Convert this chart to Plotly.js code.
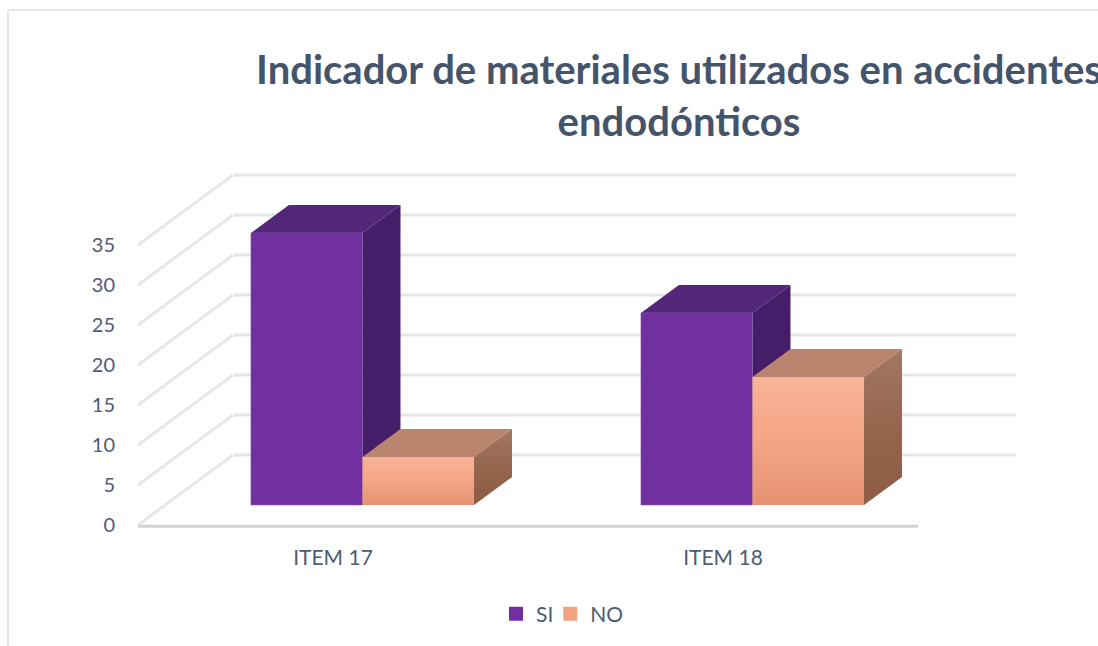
<!DOCTYPE html>
<html>
<head>
<meta charset="utf-8">
<script src="https://cdn.plot.ly/plotly-3.0.1.min.js"></script>
<style>html,body{margin:0;padding:0;background:#fff;overflow:hidden}#chart{width:1098px;height:646px}</style>
</head>
<body>
<div id="chart"></div>
<script>
const categories = ["ITEM 17", "ITEM 18"];
const seriesNames = ["SI", "NO"];
const si = [34, 24];
const no = [6, 16];
const tickValues = [0, 5, 10, 15, 20, 25, 30, 35];

const TEXT = "#4d5c72";
const depthX = 95 / 390;          // category units per full floor depth
const depthY = 70 / 8;            // value units per full floor depth
const frontT = 20 / 70, backT = 48 / 70;
const barStart = -0.28, barWidth = 0.286;
const floorEnd = (918 - 333) / 390;
const wallEnd = (1016 - 333) / 390;

const X = (x, t) => x + t * depthX;
const Y = (v, t) => v + t * depthY;
function poly(pts) {
  return { x: pts.map(p => X(p[0], p[1])), y: pts.map(p => Y(p[2], p[1])) };
}
function face(pts, style) {
  const p = poly(pts);
  const tr = { type: "scatter", mode: "lines", x: [...p.x, p.x[0]], y: [...p.y, p.y[0]],
    fill: "toself", line: { width: 0.6, color: style.edge || "rgba(255,255,255,0)" },
    hoverinfo: "skip", showlegend: false };
  if (style.grad) tr.fillgradient = { type: "vertical", colorscale: [[0, style.grad[0]], [0.5, style.grad[1]], [1, style.grad[2]]] };
  else tr.fillcolor = style.color;
  return tr;
}
function bar3d(cat, slot, val, st) {
  const l = cat + barStart + slot * barWidth, r = l + barWidth;
  return [
    face([[l, frontT, val], [r, frontT, val], [r, backT, val], [l, backT, val]], st.top),
    face([[r, frontT, 0], [r, backT, 0], [r, backT, val], [r, frontT, val]], st.side),
    face([[l, frontT, 0], [r, frontT, 0], [r, frontT, val], [l, frontT, val]], st.front)
  ];
}

const traces = [];
// back wall and side wall lines
tickValues.forEach(v => {
  traces.push({ type: "scatter", mode: "lines", x: [X(-0.5, 1), wallEnd], y: [Y(v, 1), Y(v, 1)],
    line: { color: "#e4e5ea", width: 3 }, hoverinfo: "skip", showlegend: false });
  traces.push({ type: "scatter", mode: "lines", x: [X(-0.5, 0), X(-0.5, 1)], y: [Y(v, 0), Y(v, 1)],
    line: { color: "#d0d0d5", width: 3, dash: "1px,1px" }, hoverinfo: "skip", showlegend: false });
});
// front edge of the floor
traces.push({ type: "scatter", mode: "lines", x: [-0.5, floorEnd], y: [-0.15, -0.15],
  line: { color: "#d2d2d6", width: 3 }, hoverinfo: "skip", showlegend: false });

const siStyle = { front: { color: "#7030a0", edge: "#8a5ab0" }, side: { color: "#461d69" }, top: { color: "#54267a" } };
const noStyle = {
  front: { grad: ["#e59272", "#f5a584", "#f8b398"] },
  side: { grad: ["#8e5b44", "#96654e", "#a27762"] },
  top: { color: "#b9856f" }
};
categories.forEach((c, i) => {
  traces.push(...bar3d(i, 0, si[i], siStyle));
  traces.push(...bar3d(i, 1, no[i], noStyle));
});
// legend entries
traces.push({ type: "scatter", mode: "markers", name: seriesNames[0], x: [null], y: [null],
  marker: { symbol: "square", size: 14, color: "#7030a0" } });
traces.push({ type: "scatter", mode: "markers", name: seriesNames[1], x: [null], y: [null],
  marker: { symbol: "square", size: 14, color: "#f2a283" } });

const pxX = p => (p - 138) / 878, pxY = p => (529 - p) / 356;
const layout = {
  width: 1098, height: 646,
  margin: { l: 138, r: 82, t: 173, b: 117, pad: 0 },
  paper_bgcolor: "#fff", plot_bgcolor: "rgba(0,0,0,0)",
  hovermode: false,
  font: { family: "Lato, 'Open Sans', sans-serif", color: TEXT, size: 20 },
  title: { text: "Indicador de materiales utilizados en accidentes<br>endodónticos",
    x: 679 / 1098, xref: "container", xanchor: "center", y: 1 - 84 / 646, yref: "container", yanchor: "middle",
    font: { family: "Lato, 'Open Sans', sans-serif", size: 40, weight: 700, color: "#44546a" } },
  xaxis: { range: [-0.5, wallEnd], tickmode: "array", tickvals: categories.map((c, i) => i), ticktext: categories,
    showgrid: false, zeroline: false, showline: false, ticks: "", ticklabelstandoff: 14,
    tickfont: { size: 21, color: TEXT } },
  yaxis: { range: [-0.5, 44], tickmode: "array", tickvals: tickValues, ticktext: tickValues.map(String),
    showgrid: false, zeroline: false, showline: false, ticks: "", ticklabelstandoff: 22,
    tickfont: { size: 20, color: TEXT } },
  legend: { orientation: "h", x: pxX(504), xanchor: "left", y: pxY(614), yanchor: "middle",
    font: { size: 21, color: TEXT }, bgcolor: "rgba(0,0,0,0)", itemwidth: 30, indentation: -8 },
  shapes: [
    { type: "line", xref: "paper", yref: "paper", x0: pxX(8), x1: pxX(8), y0: pxY(10), y1: pxY(646), line: { color: "#e3e6ec", width: 2 } },
    { type: "line", xref: "paper", yref: "paper", x0: pxX(8), x1: pxX(1098), y0: pxY(10), y1: pxY(10), line: { color: "#e3e6ec", width: 2 } }
  ]
};
Plotly.newPlot("chart", traces, layout, { displayModeBar: false, staticPlot: true });
</script>
</body>
</html>
